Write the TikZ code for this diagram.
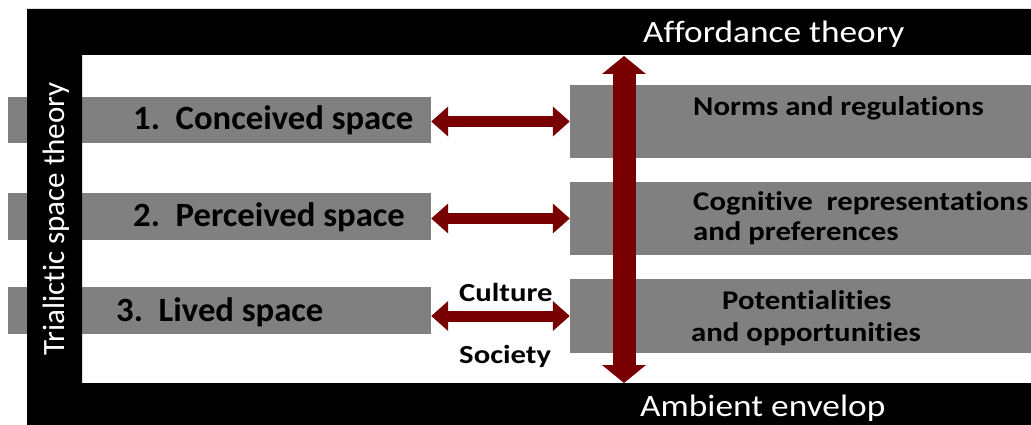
\documentclass[tikz,border=0pt]{standalone}
\usepackage{fontspec}
\setmainfont[Ligatures=NoCommon]{Carlito}
\usetikzlibrary{arrows.meta}
\definecolor{arrred}{RGB}{120,0,0}
\definecolor{boxgray}{RGB}{128,128,128}
\tikzset{
  graybox/.style={fill=boxgray, draw=none, inner sep=0pt, minimum height=#1},
  lefttxt/.style={anchor=base west, inner sep=0pt, xscale=1.02, font=\fontsize{34}{40}\selectfont\bfseries},
  righttxt/.style={anchor=base west, inner sep=0pt, xscale=1.14, font=\fontsize{27}{31}\selectfont\bfseries},
  midtxt/.style={anchor=base west, inner sep=0pt, xscale=1.18, font=\fontsize{26}{30}\selectfont\bfseries},
  frametxt/.style={inner sep=0pt, text=white, font=\fontsize{31}{36}\selectfont},
  harrow/.style={arrred, line width=11pt, {Triangle[width=29pt,length=17pt]}-{Triangle[width=29pt,length=17pt]}},
  varrow/.style={arrred, line width=23pt, {Triangle[width=43pt,length=18pt]}-{Triangle[width=43pt,length=18pt]}}
}
\begin{document}
\begin{tikzpicture}[x=1pt,y=-1pt]
\useasboundingbox (0,0) rectangle (1031,425);
\fill[white] (0,0) rectangle (1031,425);
% left boxes
\node[graybox=46pt, minimum width=423pt] (c1) at (219.5,120) {};
\node[graybox=47pt, minimum width=423pt] (c2) at (219.5,216.5) {};
\node[graybox=47pt, minimum width=423pt] (c3) at (219.5,310.5) {};
% right boxes
\node[graybox=73pt, minimum width=461pt] (r1) at (800.5,121.5) {};
\node[graybox=73pt, minimum width=461pt] (r2) at (800.5,218.5) {};
\node[graybox=74pt, minimum width=461pt] (r3) at (800.5,316) {};
% frame
\fill[black, even odd rule] (27,9) rectangle (1031,425) (82,55) rectangle (1031,383);
\node[frametxt, anchor=base west, xscale=1.14] (aff) at (643,43) {Affordance theory};
\node[frametxt, anchor=base west, xscale=1.14] (amb) at (640,416) {Ambient envelop};
\node[frametxt, anchor=base, rotate=90] (tri) at (64,219) {Trialictic space theory};
% texts
\node[lefttxt] (t1) at (133,130) {1.\ \ Conceived space};
\node[lefttxt] (t2) at (133,226) {2.\ \ Perceived space};
\node[lefttxt] (t3) at (116,321) {3.\ \ Lived space};
\node[righttxt] (n1) at (693,116) {Norms and regulations};
\node[righttxt] (n2a) at (693,210) {Cognitive\ \ representations};
\node[righttxt] (n2b) at (693,240) {and preferences};
\node[righttxt] (n3a) at (722,309) {Potentialities};
\node[righttxt] (n3b) at (691,341) {and opportunities};
\node[midtxt] (cul) at (459,301) {Culture};
\node[midtxt] (soc) at (459,363) {Society};
% arrows
\draw[harrow] (c1.east |- r1.west) -- (r1.west);
\draw[harrow] (c2.east |- r2.west) -- (r2.west);
\draw[harrow] (c3.east |- r3.west) -- (r3.west);
\coordinate (vt) at (624,56);
\coordinate (vb) at (624,383);
\draw[varrow] (vt) -- (vb);
\end{tikzpicture}
\end{document}
